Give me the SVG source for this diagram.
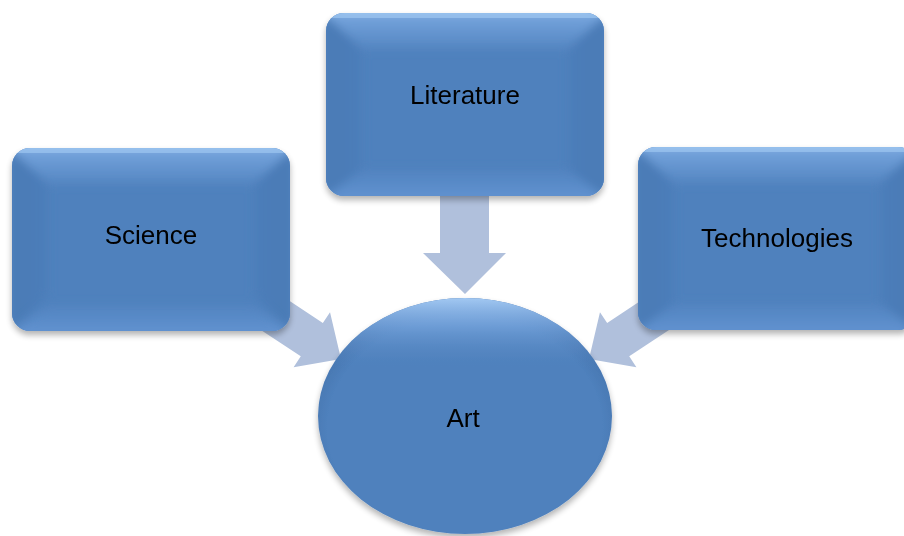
<svg xmlns="http://www.w3.org/2000/svg" width="904" height="536" viewBox="0 0 904 536">
<defs>
<style>
.lbl{font-family:"Liberation Sans",Arial,sans-serif;font-size:26px;fill:#000;text-anchor:middle}
.arr{fill:#B0C0DC}
.base{fill:#4F81BD}
</style>
<filter id="sh" x="-10%" y="-10%" width="120%" height="130%">
<feGaussianBlur in="SourceAlpha" stdDeviation="3"/>
<feOffset dx="0" dy="4" result="b"/>
<feComponentTransfer><feFuncA type="linear" slope="0.3"/></feComponentTransfer>
<feMerge><feMergeNode/><feMergeNode in="SourceGraphic"/></feMerge>
</filter>
<filter id="soft" x="-5%" y="-5%" width="110%" height="110%">
<feGaussianBlur stdDeviation="5"/>
</filter>
<linearGradient id="gTop" x1="0" y1="0" x2="0" y2="1">
<stop offset="0" stop-color="#A4CBF4"/>
<stop offset="0.25" stop-color="#74A3DC"/>
<stop offset="1" stop-color="#5486C2"/>
</linearGradient>
<linearGradient id="gBot" x1="0" y1="1" x2="0" y2="0">
<stop offset="0" stop-color="#6596D4"/>
<stop offset="1" stop-color="#5183C0"/>
</linearGradient>
<linearGradient id="gL" x1="0" y1="0" x2="1" y2="0">
<stop offset="0" stop-color="#5B8DCB"/>
<stop offset="0.3" stop-color="#4A7AB5"/>
<stop offset="1" stop-color="#4D7EBA"/>
</linearGradient>
<linearGradient id="gR" x1="1" y1="0" x2="0" y2="0">
<stop offset="0" stop-color="#5B8DCB"/>
<stop offset="0.3" stop-color="#4A7AB5"/>
<stop offset="1" stop-color="#4D7EBA"/>
</linearGradient>
<radialGradient id="gEl" cx="0.5" cy="0.55" r="0.55">
<stop offset="0" stop-color="#4F81BD"/>
<stop offset="0.85" stop-color="#4F81BD"/>
<stop offset="1" stop-color="#4674AE"/>
</radialGradient>
<linearGradient id="gElTop" x1="0" y1="0" x2="0" y2="1">
<stop offset="0" stop-color="#A2C8F2" stop-opacity="1"/>
<stop offset="0.12" stop-color="#7AA8E0" stop-opacity="0.7"/>
<stop offset="0.3" stop-color="#4F81BD" stop-opacity="0"/>
</linearGradient>
<clipPath id="c1"><rect x="12" y="148" width="278" height="183" rx="18"/></clipPath>
<clipPath id="c2"><rect x="326" y="13" width="278" height="183" rx="18"/></clipPath>
<clipPath id="c3"><rect x="638" y="147" width="278" height="183" rx="18"/></clipPath>
</defs>
<rect width="904" height="536" fill="#fff"/>
<g id="connectors">
<polygon class="arr" points="-110,-20 -35,-20 -35,-33 0,0 -35,33 -35,20 -110,20" transform="translate(341,359) rotate(33.5)"/>
<polygon class="arr" points="-110,-20 -35,-20 -35,-33 0,0 -35,33 -35,20 -110,20" transform="translate(589,359) rotate(146.5)"/>
<polygon class="arr" points="440,190 489,190 489,253 506,253 465,294 423,253 440,253"/>
</g>
<g id="science" filter="url(#sh)">
<g clip-path="url(#c1)">
<rect x="12" y="148" width="278" height="183" class="base"/>
<g filter="url(#soft)">
<polygon points="0,140 302,140 254,184 48,184" fill="url(#gTop)"/>
<polygon points="0,140 48,184 48,295 0,340" fill="url(#gL)"/>
<polygon points="302,140 254,184 254,295 302,340" fill="url(#gR)"/>
<polygon points="0,340 48,305 254,305 302,340" fill="url(#gBot)"/>
</g>
<rect x="12" y="148" width="278" height="5" fill="#A4CBF4" opacity="0.6"/>
</g>
<text class="lbl" x="151" y="244">Science</text>
</g>
<g id="literature" filter="url(#sh)">
<g clip-path="url(#c2)">
<rect x="326" y="13" width="278" height="183" class="base"/>
<g filter="url(#soft)">
<polygon points="314,5 616,5 568,49 362,49" fill="url(#gTop)"/>
<polygon points="314,5 362,49 362,170 314,205" fill="url(#gL)"/>
<polygon points="616,5 568,49 568,170 616,205" fill="url(#gR)"/>
<polygon points="314,205 362,170 568,170 616,205" fill="url(#gBot)"/>
</g>
<rect x="326" y="13" width="278" height="5" fill="#A4CBF4" opacity="0.6"/>
</g>
<text class="lbl" x="465" y="104">Literature</text>
</g>
<g id="technologies" filter="url(#sh)">
<g clip-path="url(#c3)">
<rect x="638" y="147" width="278" height="183" class="base"/>
<g filter="url(#soft)">
<polygon points="626,139 928,139 880,183 674,183" fill="url(#gTop)"/>
<polygon points="626,139 674,183 674,304 626,339" fill="url(#gL)"/>
<polygon points="928,139 880,183 880,304 928,339" fill="url(#gR)"/>
<polygon points="626,339 674,304 880,304 928,339" fill="url(#gBot)"/>
</g>
<rect x="638" y="147" width="278" height="5" fill="#A4CBF4" opacity="0.6"/>
</g>
<text class="lbl" x="777" y="247">Technologies</text>
</g>
<g id="art" filter="url(#sh)">
<ellipse cx="465" cy="416" rx="147" ry="118" fill="url(#gEl)"/>
<ellipse cx="465" cy="416" rx="147" ry="118" fill="url(#gElTop)"/>
<text class="lbl" x="463" y="427">Art</text>
</g>
</svg>
